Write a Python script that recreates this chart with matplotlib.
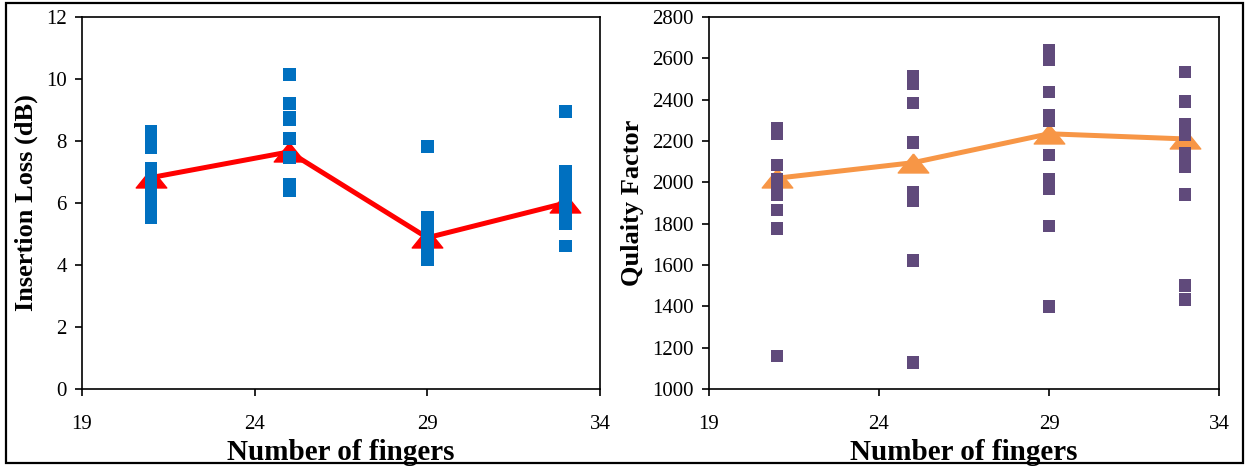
import matplotlib.pyplot as plt
from matplotlib.patches import Rectangle

# finger counts
fingers = [21, 25, 29, 33]

# insertion loss samples (dB), read per finger count
il_21 = [8.32, 8.06, 7.8, 7.13, 6.9, 6.65, 6.4, 6.15, 5.9, 5.7, 5.52]
il_25 = [10.15, 9.2, 8.77, 8.7, 8.07, 7.46, 6.6, 6.4]
il_29 = [7.82, 5.52, 5.3, 5.1, 4.9, 4.7, 4.5, 4.3, 4.18]
il_33 = [8.95, 7.03, 6.8, 6.6, 6.4, 6.2, 6.0, 5.8, 5.55, 5.32, 4.61]
il_mean = [6.82, 7.65, 4.88, 6.0]

# quality factor samples
q_21 = [2263, 2234, 2084, 2016, 2001, 1939, 1866, 1776, 1160]
q_25 = [2514, 2480, 2384, 2193, 1953, 1914, 1622, 1128]
q_29 = [2640, 2592, 2437, 2326, 2301, 2132, 2016, 1968, 1789, 1399]
q_33 = [2534, 2393, 2282, 2229, 2142, 2108, 2074, 1941, 1501, 1435]
q_mean = [2020, 2095, 2235, 2210]

plt.rcParams['font.family'] = ['Liberation Serif', 'DejaVu Serif']

tri = [(0, 0.62), (-1, -0.62), (1, -0.62), (0, 0.62)]

fig = plt.figure(figsize=(12.49, 4.67), dpi=100)
fig.patches.append(Rectangle((6 / 1249, 4 / 467), 1237 / 1249, 460 / 467,
                             transform=fig.transFigure, fill=False,
                             edgecolor='black', lw=1.6))

ax1 = fig.add_axes([82 / 1249, 78 / 467, 518 / 1249, 372 / 467])
ax2 = fig.add_axes([709 / 1249, 78 / 467, 510 / 1249, 372 / 467])

def panel(ax, groups, means, pt_color, line_color, ylim, yticks, ylabel):
    ax.plot(fingers, means, color=line_color, lw=3.6, marker=tri,
            markersize=22, zorder=2)
    for f, vals in zip(fingers, groups):
        ax.scatter([f] * len(vals), vals, marker='s', s=85, color=pt_color,
                   edgecolors='none', zorder=3)
    ax.set_xlim(19, 34)
    ax.set_xticks([19, 24, 29, 34])
    ax.set_ylim(*ylim)
    ax.set_yticks(yticks)
    ax.tick_params(direction='out', length=5, width=1.2, labelsize=15,
                   pad=6)
    ax.tick_params(axis='x', pad=14)
    for s in ax.spines.values():
        s.set_linewidth(1.2)
    ax.set_xlabel('Number of fingers', fontsize=21, fontweight='bold',
                  labelpad=3)
    ax.set_ylabel(ylabel, fontsize=19, fontweight='bold', labelpad=6)

panel(ax1, [il_21, il_25, il_29, il_33], il_mean, '#0070C0', '#FF0000',
      (0, 12), range(0, 13, 2), 'Insertion Loss (dB)')
panel(ax2, [q_21, q_25, q_29, q_33], q_mean, '#604A7B', '#F79646',
      (1000, 2800), range(1000, 2801, 200), 'Qulaity Factor')

plt.savefig('out.png', dpi=100)
plt.close()
